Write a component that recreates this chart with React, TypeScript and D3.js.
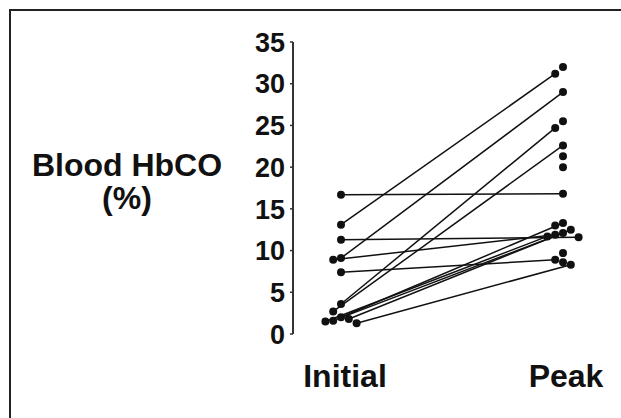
import React from "react";
import * as d3 from "d3";

// Paired measurements (Initial -> Peak), blood HbCO %
const initialValues = [16.7, 13.1, 11.3, 9.1, 8.9, 7.4, 3.6, 2.7, 2.0, 1.8, 1.6, 1.5, 1.3];
const peakValues = [16.8, 31.2, 11.6, 29.0, 11.9, 8.9, 24.7, 22.6, 13.3, 12.5, 12.1, 11.7, 8.3];
// Peak measurements without a paired initial value
const peakOnlyValues = [32.0, 25.5, 21.3, 20.0, 13.0, 9.7, 8.6];
const categories = ["Initial", "Peak"];
const yTicks = [0, 5, 10, 15, 20, 25, 30, 35];
const yLabelLines = ["Blood HbCO", "(%)"];

const W = 621;
const H = 418;
const FONT = "'Liberation Sans', Arial, Helvetica, sans-serif";

// simple dodge: offset dots horizontally when they overlap vertically
function dodge(ys: number[], d: number): number[] {
  const order = ys.map((y, i) => i).sort((a, b) => ys[a] - ys[b]);
  const placed: { x: number; y: number }[] = [];
  const out = new Array(ys.length).fill(0);
  for (const i of order) {
    const y = ys[i];
    const cands = [0, -d, d, -2 * d, 2 * d, -3 * d, 3 * d];
    for (const c of cands) {
      const ok = placed.every((p) => Math.hypot(p.x - c, p.y - y) >= d * 0.999);
      if (ok) {
        out[i] = c;
        placed.push({ x: c, y });
        break;
      }
    }
  }
  return out;
}

export default function App() {
  const y = d3.scaleLinear().domain([0, 35]).range([334, 42]);
  const x = d3.scalePoint<string>().domain(categories).range([341, 563]);

  const r = 4;
  const gap = 7.8;
  const iy = initialValues.map((v) => y(v));
  const allPeak = [...peakValues, ...peakOnlyValues];
  const py = allPeak.map((v) => y(v));
  const iOff = dodge(iy, gap);
  const pOff = dodge(py, gap);

  const x0 = x("Initial")!;
  const x1 = x("Peak")!;

  return (
    <svg
      width={W}
      height={H}
      style={{ position: "absolute", left: 0, top: 0, background: "#fff" }}
      fontFamily={FONT}
    >
      <rect x={0} y={0} width={W} height={H} fill="#fff" />
      {/* frame */}
      <line x1={10} y1={10} x2={10} y2={H} stroke="#222" strokeWidth={2} />
      <line x1={9} y1={10} x2={W} y2={10} stroke="#222" strokeWidth={2} />

      {/* y axis */}
      <line x1={293} y1={y(35)} x2={293} y2={y(0)} stroke="#333" strokeWidth={2} />
      {yTicks.map((t) => (
        <g key={t}>
          <line x1={290} y1={y(t)} x2={293} y2={y(t)} stroke="#333" strokeWidth={1.5} />
          <text
            x={285}
            y={y(t)}
            dy="0.36em"
            textAnchor="end"
            fontSize={27}
            fontWeight="bold"
            fill="#111"
          >
            {t}
          </text>
        </g>
      ))}

      {/* y label */}
      {yLabelLines.map((s, i) => (
        <text
          key={s}
          x={127}
          y={176 + i * 33}
          textAnchor="middle"
          fontSize={32}
          fontWeight="bold"
          fill="#111"
        >
          {s}
        </text>
      ))}

      {/* x labels */}
      {categories.map((c) => (
        <text
          key={c}
          x={x(c)! + (c === "Initial" ? 4 : 3)}
          y={387}
          textAnchor="middle"
          fontSize={32}
          fontWeight="bold"
          fill="#111"
        >
          {c}
        </text>
      ))}

      {/* paired lines */}
      {initialValues.map((v, i) => (
        <line
          key={"l" + i}
          x1={x0 + iOff[i]}
          y1={iy[i]}
          x2={x1 + pOff[i]}
          y2={py[i]}
          stroke="#111"
          strokeWidth={1.5}
        />
      ))}

      {/* dots */}
      {initialValues.map((v, i) => (
        <circle key={"i" + i} cx={x0 + iOff[i]} cy={iy[i]} r={r} fill="#111" />
      ))}
      {allPeak.map((v, i) => (
        <circle key={"p" + i} cx={x1 + pOff[i]} cy={py[i]} r={r} fill="#111" />
      ))}
    </svg>
  );
}
